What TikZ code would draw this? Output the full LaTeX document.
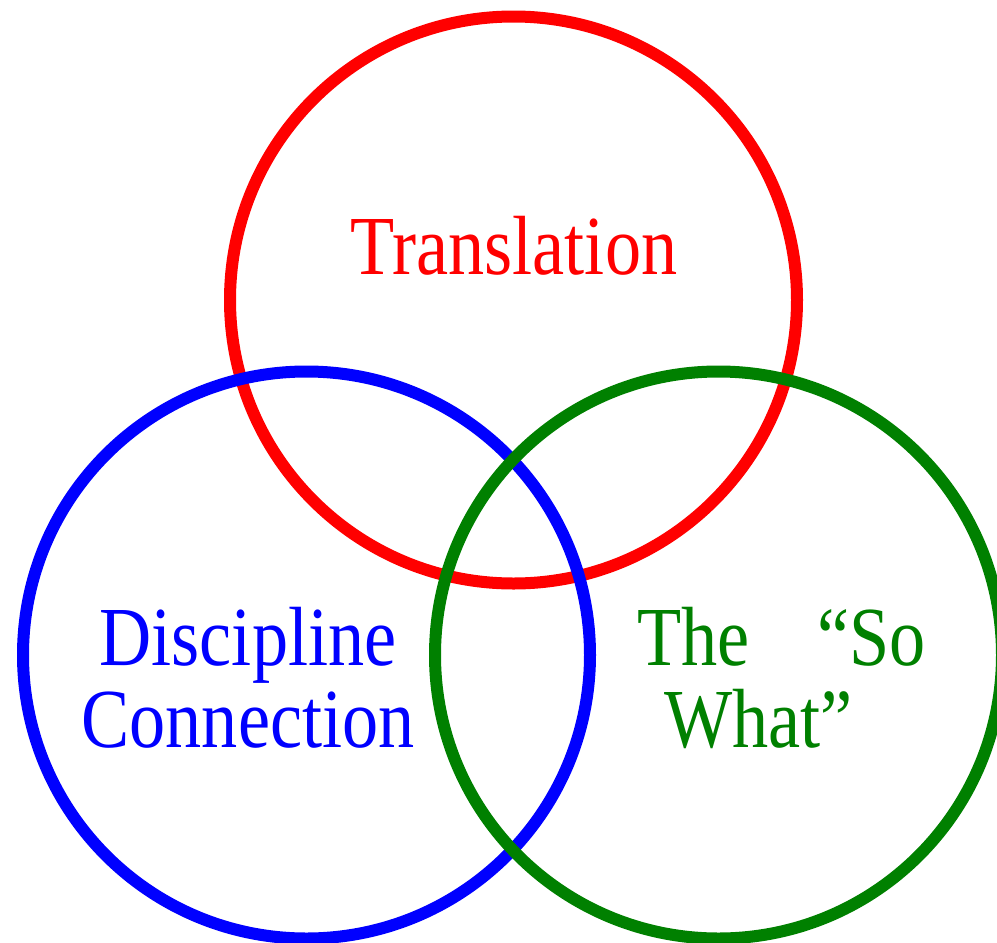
\documentclass[tikz,border=0pt]{standalone}
\usepackage{fontspec}
\setmainfont{Liberation Serif}[FakeStretch=0.86]
\definecolor{sowhatgreen}{RGB}{0,128,0}

\begin{document}
\begin{tikzpicture}[x=1pt,y=-1pt,
                    ring/.style={draw=#1,line width=12pt,circle,minimum size=567pt,inner sep=0pt},
                    tag/.style={text=#1,inner sep=0pt,font=\fontsize{84pt}{82pt}\selectfont}]
                \useasboundingbox (0,0) rectangle (997,943);
                \clip (0,0) rectangle (997,943);
                \node[ring=red] (transring) at (513.5,300) {};
                \node[ring=blue] (discring) at (306.5,655) {};
                \node[ring=sowhatgreen] (sowhatring) at (718.5,655) {};

                \node[tag=red,anchor=base] (trans) at (514,274) {Translation};
                \node[tag=blue,anchor=base,align=center] (disc) at (248,747) {Discipline\\Connection};
                \node[tag=sowhatgreen,anchor=base west,align=left] (sowhat) at (637,747)
                    {The\hspace{68pt}“So\\\hspace{27pt}What”};
            \end{tikzpicture}
\end{document}
